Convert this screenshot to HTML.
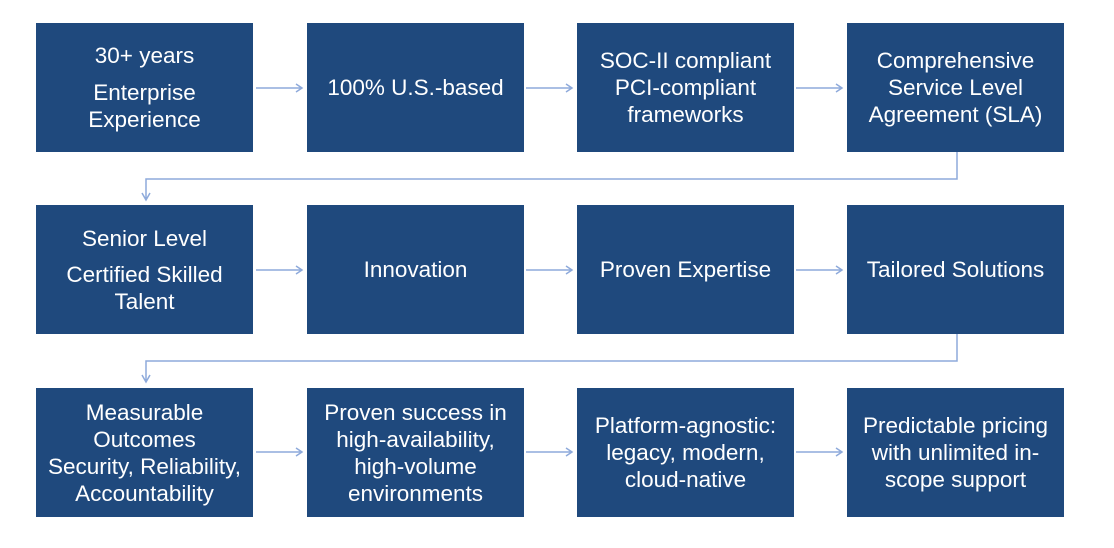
<!DOCTYPE html>
<html><head><meta charset="utf-8"><style>
body{margin:0;width:1114px;height:548px;background:#fff;position:relative;overflow:hidden;font-family:"Liberation Sans",sans-serif}
.b{position:absolute;width:217px;height:129px;background:#1f497d;color:#fff;display:flex;flex-direction:column;justify-content:center;align-items:center;text-align:center;font-size:22.5px;line-height:27px;white-space:nowrap}
svg{position:absolute;left:0;top:0}
</style></head><body>
<svg width="1114" height="548">
<g stroke="#8eaadb" stroke-width="1.5" fill="none">
<path d="M256 88H302M296 84L302 88L296 92M526 88H572M566 84L572 88L566 92M796 88H842M836 84L842 88L836 92"/>
<path d="M256 270H302M296 266L302 270L296 274M526 270H572M566 266L572 270L566 274M796 270H842M836 266L842 270L836 274"/>
<path d="M256 452H302M296 448L302 452L296 456M526 452H572M566 448L572 452L566 456M796 452H842M836 448L842 452L836 456"/>
<path d="M957 152V179H146V200M142 193L146 200L150 193"/>
<path d="M957 334V361H146V382M142 375L146 382L150 375"/>
</g></svg>
<div class="b" style="left:36px;top:23px"><div style="margin-bottom:10px">30+ years</div>Enterprise<br>Experience</div>
<div class="b" style="left:307px;top:23px">100% U.S.-based</div>
<div class="b" style="left:577px;top:23px">SOC-II compliant<br>PCI-compliant<br>frameworks</div>
<div class="b" style="left:847px;top:23px">Comprehensive<br>Service Level<br>Agreement (SLA)</div>
<div class="b" style="left:36px;top:205px"><div style="margin-bottom:9px">Senior Level</div>Certified Skilled<br>Talent</div>
<div class="b" style="left:307px;top:205px">Innovation</div>
<div class="b" style="left:577px;top:205px">Proven Expertise</div>
<div class="b" style="left:847px;top:205px">Tailored Solutions</div>
<div class="b" style="left:36px;top:388px">Measurable<br>Outcomes<br>Security, Reliability,<br>Accountability</div>
<div class="b" style="left:307px;top:388px">Proven success in<br>high-availability,<br>high-volume<br>environments</div>
<div class="b" style="left:577px;top:388px">Platform-agnostic:<br>legacy, modern,<br>cloud-native</div>
<div class="b" style="left:847px;top:388px">Predictable pricing<br>with unlimited in-<br>scope support</div>
</body></html>
